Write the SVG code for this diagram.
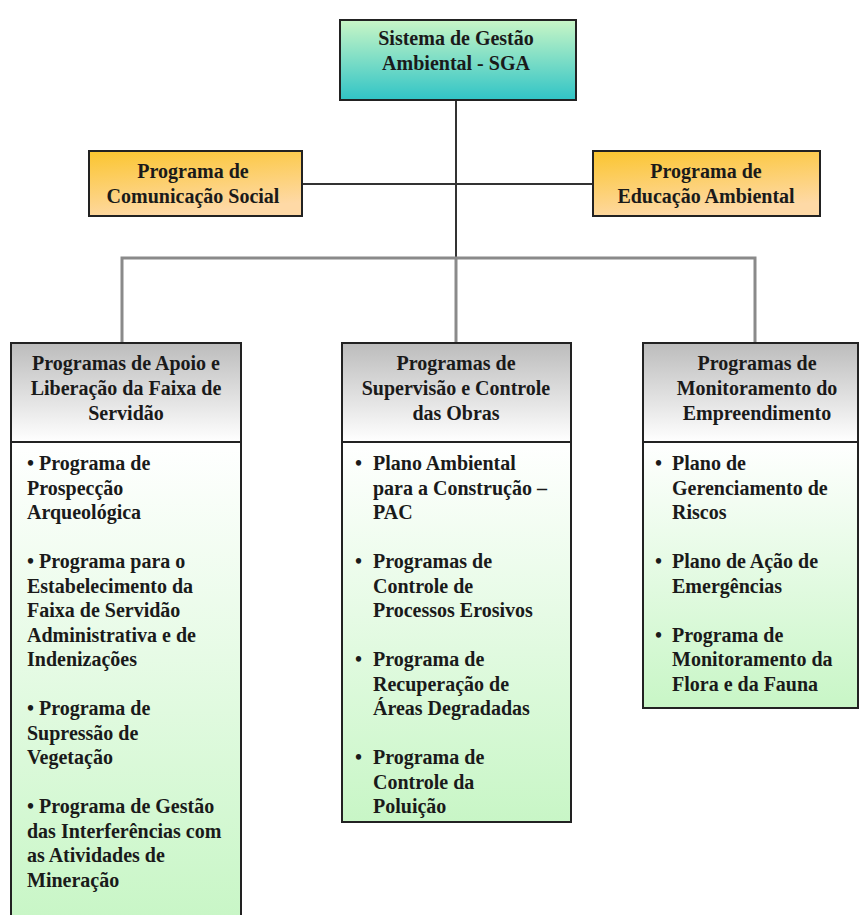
<svg xmlns="http://www.w3.org/2000/svg" width="860" height="915" viewBox="0 0 860 915">
<defs>
<linearGradient id="gTop" x1="0" y1="0" x2="0" y2="1">
<stop offset="0" stop-color="#c9f6c6"/>
<stop offset="1" stop-color="#30c4c6"/>
</linearGradient>
<linearGradient id="gOrange" x1="0" y1="0" x2="0.3" y2="1">
<stop offset="0" stop-color="#fbc52e"/>
<stop offset="1" stop-color="#fed9a6"/>
</linearGradient>
<linearGradient id="gHead" x1="0" y1="0" x2="0" y2="1">
<stop offset="0" stop-color="#bcbcbc"/>
<stop offset="1" stop-color="#ffffff"/>
</linearGradient>
<linearGradient id="gBody" x1="0" y1="0" x2="0" y2="1">
<stop offset="0" stop-color="#ffffff"/>
<stop offset="1" stop-color="#c8f6c6"/>
</linearGradient>
</defs>
<style>
.box{stroke:#222;stroke-width:2}
.t{font-family:"Liberation Serif","Times New Roman",serif;font-weight:bold;font-size:20px;fill:#1a1a1a}
.c{text-anchor:middle}
.bus{stroke:#8a8a8a;stroke-width:3;fill:none}
.blk{stroke:#333;stroke-width:2;fill:none}
</style>
<rect width="860" height="915" fill="#ffffff"/>
<g id="connectors">
<line class="blk" x1="456" y1="100" x2="456" y2="258"/>
<line class="blk" x1="302" y1="184" x2="593" y2="184"/>
<polyline class="bus" points="122,343 122,258 755,258 755,343"/>
<line class="bus" x1="456" y1="258" x2="456" y2="343"/>
</g>
<g id="sga">
<rect class="box" x="340" y="20" width="236" height="80" fill="url(#gTop)"/>
<text class="t c" x="456" y="45">Sistema de Gestão<tspan x="456" dy="25">Ambiental - SGA</tspan></text>
</g>
<g id="comunicacao">
<rect class="box" x="89" y="151" width="213" height="65" fill="url(#gOrange)"/>
<text class="t c" x="193" y="178">Programa de<tspan x="193" dy="25">Comunicação Social</tspan></text>
</g>
<g id="educacao">
<rect class="box" x="593" y="151" width="227" height="65" fill="url(#gOrange)"/>
<text class="t c" x="706" y="178">Programa de<tspan x="706" dy="25">Educação Ambiental</tspan></text>
</g>
<g id="apoio">
<rect class="box" x="11" y="442" width="230" height="480" fill="url(#gBody)"/>
<rect class="box" x="11" y="343" width="230" height="99" fill="url(#gHead)"/>
<text class="t c" x="126" y="370">Programas de Apoio e<tspan x="126" dy="25">Liberação da Faixa de</tspan><tspan x="126" dy="25">Servidão</tspan></text>
<text class="t" x="27" y="470">• Programa de<tspan x="27" dy="24.5">Prospecção</tspan><tspan x="27" dy="24.5">Arqueológica</tspan><tspan x="27" dy="49">• Programa para o</tspan><tspan x="27" dy="24.5">Estabelecimento da</tspan><tspan x="27" dy="24.5">Faixa de Servidão</tspan><tspan x="27" dy="24.5">Administrativa e de</tspan><tspan x="27" dy="24.5">Indenizações</tspan><tspan x="27" dy="49">• Programa de</tspan><tspan x="27" dy="24.5">Supressão de</tspan><tspan x="27" dy="24.5">Vegetação</tspan><tspan x="27" dy="49">• Programa de Gestão</tspan><tspan x="27" dy="24.5">das Interferências com</tspan><tspan x="27" dy="24.5">as Atividades de</tspan><tspan x="27" dy="24.5">Mineração</tspan></text>
</g>
<g id="supervisao">
<rect class="box" x="342" y="442" width="229" height="380" fill="url(#gBody)"/>
<rect class="box" x="342" y="343" width="229" height="99" fill="url(#gHead)"/>
<text class="t c" x="456" y="370">Programas de<tspan x="456" dy="25">Supervisão e Controle</tspan><tspan x="456" dy="25">das Obras</tspan></text>
<text class="t" y="470"><tspan x="355">•</tspan><tspan x="373">Plano Ambiental</tspan><tspan x="373" dy="24.5">para a Construção –</tspan><tspan x="373" dy="24.5">PAC</tspan><tspan x="355" dy="49">•</tspan><tspan x="373">Programas de</tspan><tspan x="373" dy="24.5">Controle de</tspan><tspan x="373" dy="24.5">Processos Erosivos</tspan><tspan x="355" dy="49">•</tspan><tspan x="373">Programa de</tspan><tspan x="373" dy="24.5">Recuperação de</tspan><tspan x="373" dy="24.5">Áreas Degradadas</tspan><tspan x="355" dy="49">•</tspan><tspan x="373">Programa de</tspan><tspan x="373" dy="24.5">Controle da</tspan><tspan x="373" dy="24.5">Poluição</tspan></text>
</g>
<g id="monitoramento">
<rect class="box" x="643" y="442" width="215" height="266" fill="url(#gBody)"/>
<rect class="box" x="643" y="343" width="215" height="99" fill="url(#gHead)"/>
<text class="t c" x="757" y="370">Programas de<tspan x="757" dy="25">Monitoramento do</tspan><tspan x="757" dy="25">Empreendimento</tspan></text>
<text class="t" y="470"><tspan x="655">•</tspan><tspan x="672">Plano de</tspan><tspan x="672" dy="24.5">Gerenciamento de</tspan><tspan x="672" dy="24.5">Riscos</tspan><tspan x="655" dy="49">•</tspan><tspan x="672">Plano de Ação de</tspan><tspan x="672" dy="24.5">Emergências</tspan><tspan x="655" dy="49">•</tspan><tspan x="672">Programa de</tspan><tspan x="672" dy="24.5">Monitoramento da</tspan><tspan x="672" dy="24.5">Flora e da Fauna</tspan></text>
</g>
</svg>
